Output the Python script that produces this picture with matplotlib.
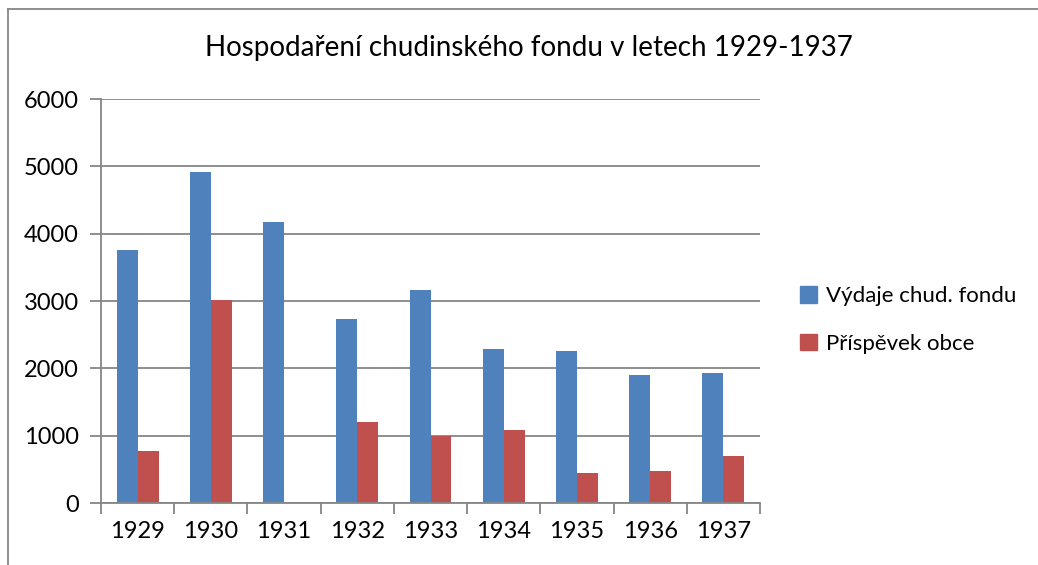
import numpy as np
import matplotlib.pyplot as plt
from matplotlib.patches import Patch
from matplotlib.lines import Line2D

years = ['1929', '1930', '1931', '1932', '1933', '1934', '1935', '1936', '1937']
vydaje = [3752, 4916, 4178, 2727, 3163, 2287, 2262, 1901, 1925]
prispevek = [777, 3009, 0, 1203, 990, 1084, 446, 475, 703]

plt.rcParams['font.family'] = ['Lato', 'DejaVu Sans']

W, H = 1038, 565
fig = plt.figure(figsize=(W / 100, H / 100), dpi=100)
ax = fig.add_axes([101 / W, 1 - 503 / H, (760 - 101) / W, (503 - 99) / H])

x = np.arange(len(years))
bw = 0.286
ax.bar(x - bw / 2, vydaje, bw, color='#4F81BD', label='Výdaje chud. fondu')
ax.bar(x + bw / 2, prispevek, bw, color='#C0504D', label='Příspěvek obce')

ax.set_xlim(-0.5, len(years) - 0.5)
ax.set_ylim(0, 6000)
ax.set_yticks(range(0, 6001, 1000))
ax.set_xticks(x)
ax.set_xticklabels(years)
ax.set_xticks(np.arange(-0.5, len(years), 1), minor=True)
ax.yaxis.grid(True, color='#868686', linewidth=1.3)
ax.set_axisbelow(True)
for s in ['top', 'right']:
    ax.spines[s].set_visible(False)
for s in ['left', 'bottom']:
    ax.spines[s].set_color('#868686')
    ax.spines[s].set_linewidth(1.3)
ax.tick_params(axis='x', which='major', length=0, pad=13, labelsize=17)
ax.tick_params(axis='x', which='minor', length=8, color='#868686', width=1.3)
ax.tick_params(axis='y', length=8, color='#868686', width=1.3, pad=8, labelsize=17)

fig.text(529 / W, 1 - 48 / H, 'Hospodaření chudinského fondu v letech 1929-1937',
         ha='center', va='center', fontsize=20)

handles = [Patch(color='#4F81BD'), Patch(color='#C0504D')]
fig.legend(handles, ['Výdaje chud. fondu', 'Příspěvek obce'], loc='center left',
           bbox_to_anchor=(780 / W, 1 - 320 / H), frameon=False, fontsize=16,
           handlelength=0.75, handleheight=0.75, handletextpad=0.4, labelspacing=1.25)

# chart area border
fig.add_artist(Line2D([8 / W, 8 / W], [0, 1 - 9 / H], transform=fig.transFigure,
                      color='#868686', linewidth=1.3))
fig.add_artist(Line2D([8 / W, 1], [1 - 9 / H, 1 - 9 / H], transform=fig.transFigure,
                      color='#868686', linewidth=1.3))

fig.savefig('out.png', dpi=100)
